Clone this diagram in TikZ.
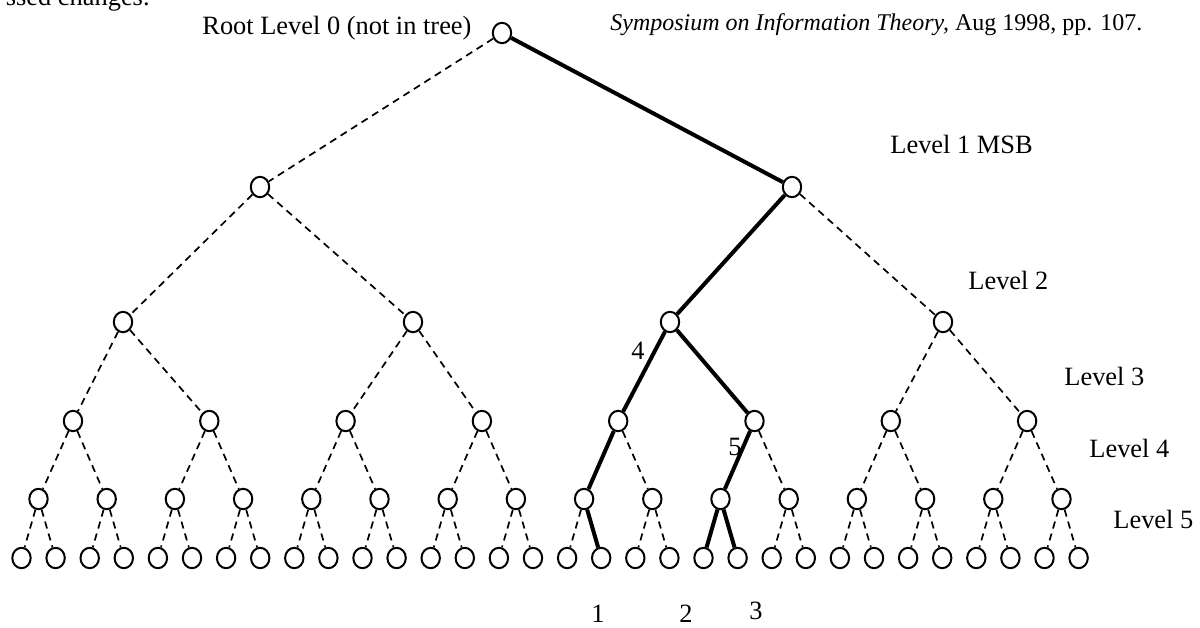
\documentclass[tikz,border=0pt]{standalone}
\usepackage{fontspec}
\setmainfont{Liberation Serif}
\usetikzlibrary{shapes.geometric}
\begin{document}
\begin{tikzpicture}[x=0.5pt,y=-0.5pt,
  nd/.style={ellipse,draw,line width=1pt,minimum width=9.2pt,minimum height=10.2pt,inner sep=0pt},
  dsh/.style={line width=0.85pt,dash pattern=on 3.6pt off 2.6pt},
  thk/.style={line width=2pt},
  lbl/.style={font=\fontsize{13.2}{15}\selectfont,inner sep=0pt}]
\useasboundingbox (0,0) rectangle (1200,627);
\clip (0,0) rectangle (1200,627);
% nodes
\node[nd] (r) at (502,33) {};
\node[nd] (a0) at (260,187) {};
\node[nd] (a1) at (792,187) {};
\foreach \i/\x in {0/123,1/413,2/670,3/943} \node[nd] (b\i) at (\x,322) {};
\foreach \i in {0,...,7} \node[nd] (c\i) at ({73+136.3*\i},421) {};
\foreach \i in {0,...,15} \node[nd] (d\i) at ({38.5+68.2*\i},499) {};
\foreach \i in {0,...,31} \node[nd] (e\i) at ({21.5+34.1*\i},558) {};
% dashed edges
\draw[dsh] (r) -- (a0);
\draw[dsh] (a0) -- (b0);
\draw[dsh] (a0) -- (b1);
\draw[dsh] (a1) -- (b3);
\foreach \i [evaluate=\i as \l using {int(2*\i)}, evaluate=\i as \m using {int(2*\i+1)}] in {0,...,3}
  {\draw[dsh] (b\i) -- (c\l); \draw[dsh] (b\i) -- (c\m);}
\foreach \i [evaluate=\i as \l using {int(2*\i)}, evaluate=\i as \m using {int(2*\i+1)}] in {0,...,7}
  {\draw[dsh] (c\i) -- (d\l); \draw[dsh] (c\i) -- (d\m);}
\foreach \i [evaluate=\i as \l using {int(2*\i)}, evaluate=\i as \m using {int(2*\i+1)}] in {0,...,15}
  {\draw[dsh] (d\i) -- (e\l); \draw[dsh] (d\i) -- (e\m);}
% thick path
\draw[thk] (r) -- (a1);
\draw[thk] (a1) -- (b2);
\draw[thk] (b2) -- (c4);
\draw[thk] (b2) -- (c5);
\draw[thk] (c4) -- (d8);
\draw[thk] (d8) -- (e17);
\draw[thk] (c5) -- (d10);
\draw[thk] (d10) -- (e20);
\draw[thk] (d10) -- (e21);
% labels
\node[lbl,anchor=base east] (tl) at (150,5) {ssed changes.};
\node[lbl,anchor=base west,font=\fontsize{12}{14}\selectfont] (tr) at (610,30) {\itshape Symposium on Information Theory,\upshape{} Aug 1998, pp. 107.};
\node[lbl,anchor=base west] (t0) at (202,34) {Root Level 0 (not in tree)};
\node[lbl,anchor=base west] (t1) at (890,153) {Level 1 MSB};
\node[lbl,anchor=base west] (t2) at (968,289) {Level 2};
\node[lbl,anchor=base west] (t3) at (1064,385) {Level 3};
\node[lbl,anchor=base west] (t4) at (1089,457) {Level 4};
\node[lbl,anchor=base west] (t5) at (1113,528) {Level 5};
\node[lbl] (n4) at (638,351) {4};
\node[lbl] (n5) at (735,447) {5};
\node[lbl,anchor=base] (n1) at (598,622) {1};
\node[lbl,anchor=base] (n2) at (686,622) {2};
\node[lbl,anchor=base] (n3) at (756,619) {3};
\end{tikzpicture}
\end{document}
